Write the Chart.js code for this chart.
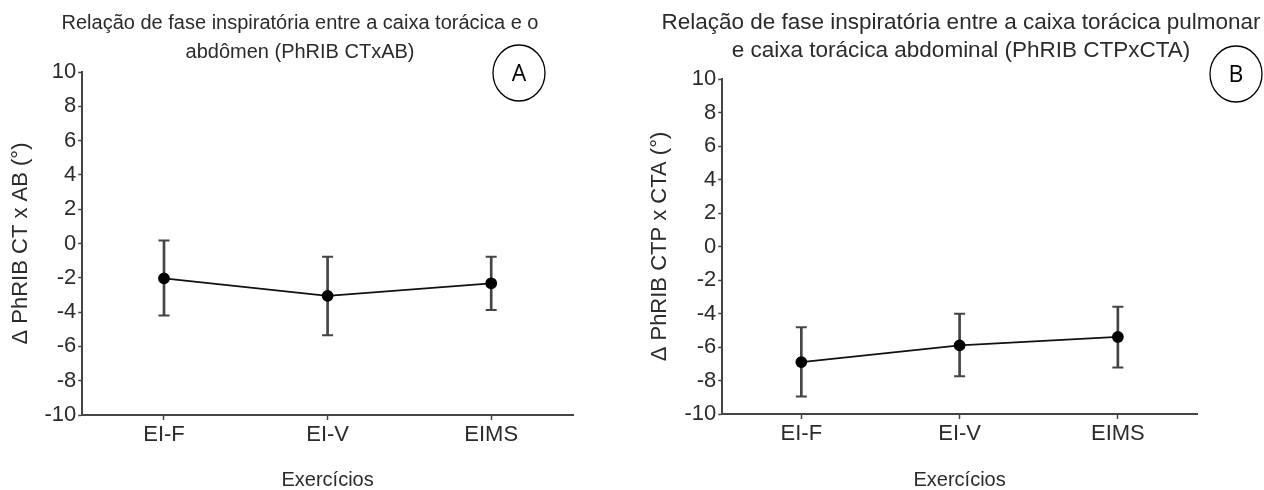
<!DOCTYPE html>
<html>
<head>
<meta charset="utf-8">
<script src="https://cdn.jsdelivr.net/npm/chart.js@4.4.0/dist/chart.umd.min.js"></script>
<style>
  html, body { margin: 0; padding: 0; background: #fff; }
  body { width: 1264px; height: 490px; position: relative; overflow: hidden; }
  .panel { position: absolute; top: 0; height: 490px; }
</style>
</head>
<body>
<div class="panel" style="left:0;width:600px"><canvas id="chartA" width="600" height="490"></canvas></div>
<div class="panel" style="left:632px;width:632px"><canvas id="chartB" width="632" height="490"></canvas></div>
<script>
const CATEGORIAS = ['EI-F', 'EI-V', 'EIMS'];
const Y_TICKS = [-10, -8, -6, -4, -2, 0, 2, 4, 6, 8, 10];

// painel A - PhRIB CT x AB
const MEDIA_A = [-2.03, -3.05, -2.32];
const SUP_A = [0.17, -0.77, -0.77];
const INF_A = [-4.2, -5.35, -3.88];

// painel B - PhRIB CTP x CTA
const MEDIA_B = [-6.9, -5.9, -5.4];
const SUP_B = [-4.82, -4.02, -3.6];
const INF_B = [-8.95, -7.75, -7.23];

const FONTE = "'Liberation Sans', Arial, Helvetica, sans-serif";
const TEXTO = '#2b2b2b';
const EIXO = '#444';

// letra circulada (A / B) no canto do painel
const letraCirculada = {
    id: 'letraCirculada',
    afterDraw(chart, args, opts) {
        const ctx = chart.ctx;
        ctx.save();
        ctx.beginPath();
        ctx.ellipse(opts.x, opts.y, 26, 28, 0, 0, Math.PI * 2);
        ctx.lineWidth = 1.3;
        ctx.strokeStyle = '#000';
        ctx.stroke();
        ctx.fillStyle = '#000';
        ctx.font = "23px 'Open Sans', 'Liberation Sans', sans-serif";
        ctx.textAlign = 'center';
        ctx.textBaseline = 'middle';
        ctx.fillText(opts.letra, opts.x, opts.y + 1);
        ctx.restore();
    }
};

function montarGrafico(id, cfg) {
    const ctx = document.getElementById(id).getContext('2d');
    const escalas = {
        x: {
            offset: true,
            grid: { offset: false, drawOnChartArea: false, tickLength: 5, tickColor: EIXO, tickWidth: 1.5 },
            border: { color: EIXO, width: 2 },
            ticks: { color: TEXTO, padding: 2, font: { family: FONTE, size: 22 } },
            title: {
                display: true,
                text: 'Exercícios',
                color: TEXTO,
                font: { family: FONTE, size: 20, lineHeight: 1 },
                padding: { top: cfg.xTituloPad, bottom: 0 }
            }
        },
        y: {
            min: -10,
            max: 10,
            afterBuildTicks: (s) => { s.ticks = Y_TICKS.map(v => ({ value: v })); },
            grid: { drawOnChartArea: false, tickLength: 4, tickColor: EIXO, tickWidth: 1.5 },
            border: { color: EIXO, width: 2 },
            ticks: { color: TEXTO, padding: 2, font: { family: FONTE, size: 22 } },
            title: {
                display: true,
                text: cfg.tituloY,
                color: TEXTO,
                font: { family: FONTE, size: 22, lineHeight: 1.2 },
                padding: cfg.tituloYPad
            }
        }
    };
    if (cfg.margemDireita) {
        // espaço vazio à direita para o título poder passar da área do gráfico
        escalas.margem = {
            position: 'right',
            grid: { display: false },
            border: { display: false },
            ticks: { display: false },
            afterFit: (s) => { s.width = cfg.margemDireita; }
        };
    }
    return new Chart(ctx, {
        type: 'line',
        data: {
            labels: CATEGORIAS,
            datasets: [
                {
                    label: 'média',
                    data: cfg.media,
                    borderColor: '#111',
                    borderWidth: 1.8,
                    pointBackgroundColor: '#000',
                    pointBorderColor: '#000',
                    pointRadius: 5,
                    tension: 0,
                    order: 0
                },
                {
                    type: 'bar',
                    label: 'dp',
                    data: cfg.inf.map((v, i) => [v, cfg.sup[i]]),
                    backgroundColor: EIXO,
                    barThickness: 2,
                    order: 2
                },
                {
                    label: 'sup',
                    data: cfg.sup,
                    showLine: false,
                    pointStyle: 'line',
                    pointRadius: 5.5,
                    pointBorderWidth: 2,
                    pointBorderColor: EIXO,
                    order: 1
                },
                {
                    label: 'inf',
                    data: cfg.inf,
                    showLine: false,
                    pointStyle: 'line',
                    pointRadius: 5.5,
                    pointBorderWidth: 2,
                    pointBorderColor: EIXO,
                    order: 1
                }
            ]
        },
        options: {
            responsive: false,
            animation: false,
            events: [],
            layout: { padding: cfg.padding },
            plugins: {
                legend: { display: false },
                tooltip: { enabled: false },
                title: {
                    display: true,
                    text: cfg.titulo,
                    color: TEXTO,
                    font: { family: FONTE, size: cfg.tituloTam, weight: 'normal', lineHeight: cfg.tituloLinha },
                    padding: { top: 0, bottom: cfg.tituloBaixo }
                },
                letraCirculada: cfg.letra
            },
            scales: escalas
        },
        plugins: [letraCirculada]
    });
}

montarGrafico('chartA', {
    media: MEDIA_A, sup: SUP_A, inf: INF_A,
    titulo: ['Relação de fase inspiratória entre a caixa torácica e o', 'abdômen (PhRIB CTxAB)'],
    tituloY: 'Δ PhRIB CT x AB (°)',
    tituloTam: 20,
    tituloLinha: 1.45,
    tituloBaixo: 5,
    tituloYPad: { top: -19, bottom: 8 },
    xTituloPad: 19.6,
    padding: { left: 27, right: 27, top: 9, bottom: 0 },
    letra: { letra: 'A', x: 519, y: 73 }
});

montarGrafico('chartB', {
    media: MEDIA_B, sup: SUP_B, inf: INF_B,
    titulo: ['Relação de fase inspiratória entre a caixa torácica pulmonar', 'e caixa torácica abdominal (PhRIB CTPxCTA)'],
    tituloY: 'Δ PhRIB CTP x CTA (°)',
    tituloTam: 22.5,
    tituloLinha: 1.25,
    tituloBaixo: 13.8,
    tituloYPad: { top: -11, bottom: 9 },
    xTituloPad: 20.6,
    margemDireita: 67,
    padding: { left: 26, right: 0, top: 9, bottom: 0 },
    letra: { letra: 'B', x: 604, y: 74 }
});
</script>
</body>
</html>
